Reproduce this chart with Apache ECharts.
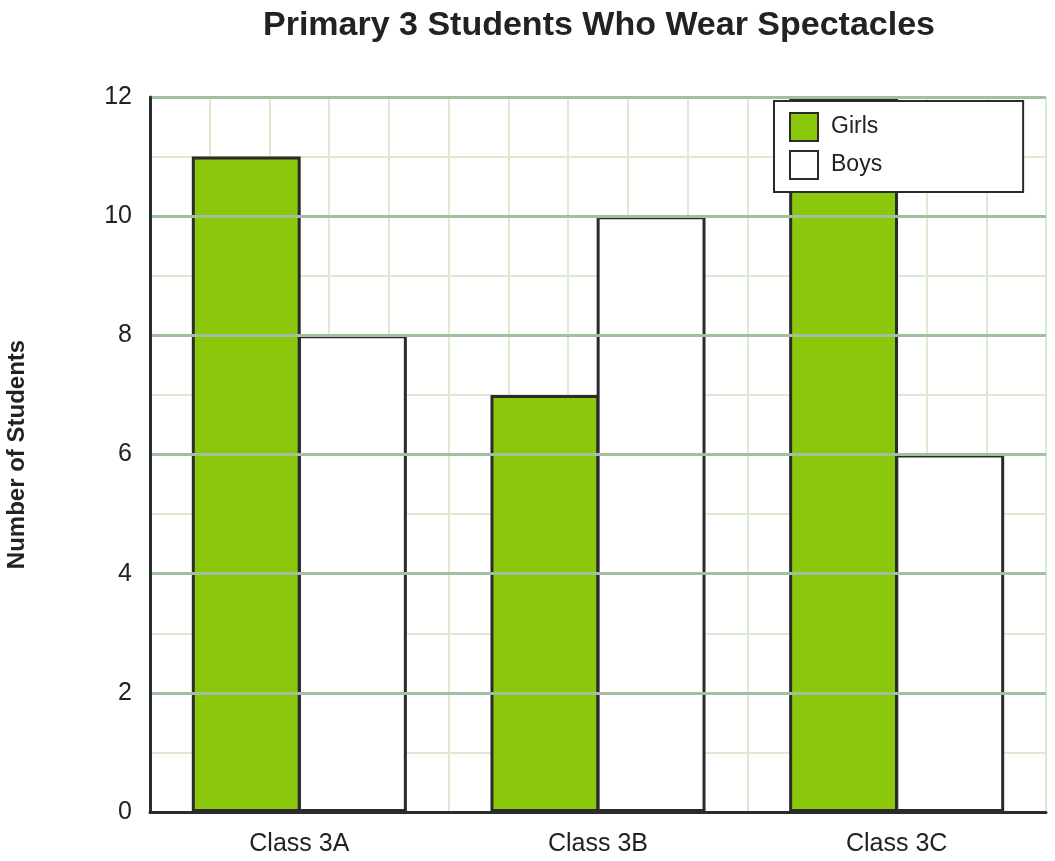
<!DOCTYPE html>
<html>
<head>
<meta charset="utf-8">
<script src="https://cdn.jsdelivr.net/npm/echarts@6/dist/echarts.min.js"></script>
<style>
  html,body{margin:0;padding:0;background:#fff}
  #chart{width:1055px;height:861px}
</style>
</head>
<body>
<div id="chart"></div>
<script>
const classes = ["Class 3A", "Class 3B", "Class 3C"];
const girls = [11, 7, 12];
const boys = [8, 10, 6];
const seriesNames = ["Girls", "Boys"];

const ink = "#2b2b2b";
const font = "Arial, 'Liberation Sans', sans-serif";

const chart = echarts.init(document.getElementById("chart"));
chart.setOption({
  backgroundColor: "#fff",
  animation: false,
  title: {
    text: "Primary 3 Students Who Wear Spectacles",
    left: 594, top: 4, textAlign: "center",
    textStyle: {fontFamily: font, fontSize: 34, fontWeight: "bold", color: "#222"}
  },
  legend: {
    data: seriesNames,
    orient: "vertical",
    icon: "rect",
    left: 774, top: 101,
    padding: [11, 141, 12, 15],
    itemWidth: 28, itemHeight: 28, itemGap: 8,
    backgroundColor: "#fff", borderColor: ink, borderWidth: 2,
    itemStyle: {borderWidth: 2},
    textStyle: {fontFamily: font, fontSize: 23, color: "#222", padding: [0, 0, 0, 8]}
  },
  grid: {left: 150, right: 9, top: 97, bottom: 49, outerBoundsMode: "none", containLabel: false},
  xAxis: [
    {type: "category", data: classes, z: 3,
      axisLine: {show: true, lineStyle: {color: ink, width: 3}},
      axisTick: {show: false}, splitLine: {show: false},
      axisLabel: {fontFamily: font, fontSize: 25, color: "#222", margin: 20}},
    {type: "value", min: 0, max: 15, interval: 1, position: "bottom", z: 0,
      axisLine: {show: false}, axisTick: {show: false}, axisLabel: {show: false},
      splitLine: {show: true, lineStyle: {color: "#dbead1", width: 2}}}
  ],
  yAxis: [
    {type: "value", min: 0, max: 12, interval: 2, z: 3,
      name: "Number of Students", nameLocation: "middle", nameRotate: 90, nameGap: 121,
      nameTextStyle: {fontFamily: font, fontSize: 24, fontWeight: "bold", color: "#222"},
      axisLine: {show: true, lineStyle: {color: ink, width: 3}},
      axisTick: {show: false},
      axisLabel: {fontFamily: font, fontSize: 25, color: "#222", margin: 18},
      splitLine: {show: true, lineStyle: {color: "#9fc19f", width: 3}}},
    {type: "value", min: 0, max: 12, interval: 1, z: 0,
      axisLine: {show: false}, axisTick: {show: false}, axisLabel: {show: false},
      splitLine: {show: true, lineStyle: {color: "#dbead1", width: 2}}}
  ],
  series: [
    {name: seriesNames[0], type: "bar", data: girls, xAxisIndex: 0, yAxisIndex: 0,
      barGap: "-2.5%", barCategoryGap: "28%",
      itemStyle: {color: "#8bc70a", borderColor: ink, borderWidth: 3}},
    {name: seriesNames[1], type: "bar", data: boys, xAxisIndex: 0, yAxisIndex: 0,
      barGap: "-2.5%", barCategoryGap: "28%",
      itemStyle: {color: "#fff", borderColor: ink, borderWidth: 3}}
  ]
});
</script>
</body>
</html>
